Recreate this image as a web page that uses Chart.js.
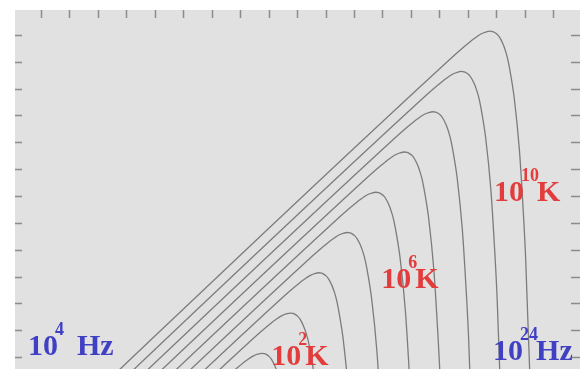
<!DOCTYPE html>
<html>
<head>
<meta charset="utf-8">
<script src="https://cdn.jsdelivr.net/npm/chart.js@4"></script>
<style>
  html, body { margin: 0; padding: 0; background: #fff; }
</style>
</head>
<body>
<canvas id="planck" width="580" height="369"></canvas>
<script>
// tick marks (log10 Hz along the top, log10 intensity on the sides)
const nuTicks = [5, 6, 7, 8, 9, 10, 11, 12, 13, 14, 15, 16, 17, 18, 19, 20, 21, 22, 23];
const bTicks = [-10, -8, -6, -4, -2, 0, 2, 4, 6, 8, 10, 12, 14];

// blackbody curves, [log10 frequency, log10 intensity]
const curve1e2 = [[4, -26.51], [11.32, -11.90], [11.80, -10.99], [12.16, -10.35], [12.32, -10.11], [12.49, -9.89], [12.62, -9.78], [12.77, -9.72], [12.86, -9.75], [12.92, -9.80], [13.02, -9.95], [13.10, -10.15], [13.22, -10.64], [13.32, -11.22], [13.40, -11.85], [13.49, -12.86], [13.62, -14.66], [13.80, -18.47], [13.92, -22.44], [14.02, -26.49], [14.16, -34.74], [14.22, -38.91]];
const curve1e3 = [[4, -25.51], [12.32, -8.90], [12.80, -7.99], [13.16, -7.35], [13.32, -7.11], [13.49, -6.89], [13.62, -6.78], [13.77, -6.72], [13.86, -6.75], [13.92, -6.80], [14.02, -6.95], [14.10, -7.15], [14.22, -7.64], [14.32, -8.22], [14.40, -8.85], [14.49, -9.86], [14.62, -11.66], [14.80, -15.47], [14.92, -19.44], [15.02, -23.49], [15.16, -31.74], [15.22, -35.91]];
const curve1e4 = [[4, -24.51], [13.32, -5.90], [13.80, -4.99], [14.16, -4.35], [14.32, -4.11], [14.49, -3.89], [14.62, -3.78], [14.77, -3.72], [14.86, -3.75], [14.92, -3.80], [15.02, -3.95], [15.10, -4.15], [15.22, -4.64], [15.32, -5.22], [15.40, -5.85], [15.49, -6.86], [15.62, -8.66], [15.80, -12.47], [15.92, -16.44], [16.02, -20.49], [16.16, -28.74], [16.22, -32.91]];
const curve1e5 = [[4, -23.51], [14.32, -2.90], [14.80, -1.99], [15.16, -1.35], [15.32, -1.11], [15.49, -0.89], [15.62, -0.78], [15.77, -0.72], [15.86, -0.75], [15.92, -0.80], [16.02, -0.95], [16.10, -1.15], [16.22, -1.64], [16.32, -2.22], [16.40, -2.85], [16.49, -3.86], [16.62, -5.66], [16.80, -9.47], [16.92, -13.44], [17.02, -17.49], [17.16, -25.74], [17.22, -29.91]];
const curve1e6 = [[4, -22.51], [15.32, 0.10], [15.80, 1.01], [16.16, 1.65], [16.32, 1.89], [16.49, 2.11], [16.62, 2.22], [16.77, 2.28], [16.86, 2.25], [16.92, 2.20], [17.02, 2.05], [17.10, 1.85], [17.22, 1.36], [17.32, 0.78], [17.40, 0.15], [17.49, -0.86], [17.62, -2.66], [17.80, -6.47], [17.92, -10.44], [18.02, -14.49], [18.16, -22.74], [18.22, -26.91]];
const curve1e7 = [[4, -21.51], [16.32, 3.10], [16.80, 4.01], [17.16, 4.65], [17.32, 4.89], [17.49, 5.11], [17.62, 5.22], [17.77, 5.28], [17.86, 5.25], [17.92, 5.20], [18.02, 5.05], [18.10, 4.85], [18.22, 4.36], [18.32, 3.78], [18.40, 3.15], [18.49, 2.14], [18.62, 0.34], [18.80, -3.47], [18.92, -7.44], [19.02, -11.49], [19.16, -19.74], [19.22, -23.91]];
const curve1e8 = [[4, -20.51], [17.32, 6.10], [17.80, 7.01], [18.16, 7.65], [18.32, 7.89], [18.49, 8.11], [18.62, 8.22], [18.77, 8.28], [18.86, 8.25], [18.92, 8.20], [19.02, 8.05], [19.10, 7.85], [19.22, 7.36], [19.32, 6.78], [19.40, 6.15], [19.49, 5.14], [19.62, 3.34], [19.80, -0.47], [19.92, -4.44], [20.02, -8.49], [20.16, -16.74], [20.22, -20.91]];
const curve1e9 = [[4, -19.51], [18.32, 9.10], [18.80, 10.01], [19.16, 10.65], [19.32, 10.89], [19.49, 11.11], [19.62, 11.22], [19.77, 11.28], [19.86, 11.25], [19.92, 11.20], [20.02, 11.05], [20.10, 10.85], [20.22, 10.36], [20.32, 9.78], [20.40, 9.15], [20.49, 8.14], [20.62, 6.34], [20.80, 2.53], [20.92, -1.44], [21.02, -5.49], [21.16, -13.74], [21.22, -17.91]];
const curve1e10 = [[4, -18.51], [19.32, 12.10], [19.80, 13.01], [20.16, 13.65], [20.32, 13.89], [20.49, 14.11], [20.62, 14.22], [20.77, 14.28], [20.86, 14.25], [20.92, 14.20], [21.02, 14.05], [21.10, 13.85], [21.22, 13.36], [21.32, 12.78], [21.40, 12.15], [21.49, 11.14], [21.62, 9.34], [21.80, 5.53], [21.92, 1.56], [22.02, -2.49], [22.16, -10.74], [22.22, -14.91]];

const curves = [curve1e2, curve1e3, curve1e4, curve1e5, curve1e6, curve1e7, curve1e8, curve1e9, curve1e10];

// text labels on the plot
const tagExp = ['4', '24', '2', '6', '10'];
const tagUnit = ['\u2002Hz', 'Hz', 'K', 'K', 'K'];
const tagColor = ['#4040c4', '#4040c4', '#e23c3c', '#e23c3c', '#e23c3c'];
const tagNu = [4.56, 20.88, 13.10, 16.96, 20.91];
const tagB = [-9.85, -10.22, -10.60, -4.86, 1.62];

var frame = {
  id: 'frame',
  beforeDraw(chart) {
    var ctx = chart.ctx, a = chart.chartArea;
    ctx.save();
    ctx.fillStyle = '#e1e1e1';
    ctx.fillRect(a.left, a.top, a.right - a.left, a.bottom - a.top);
    ctx.strokeStyle = '#8c8c8c';
    ctx.lineWidth = 1.5;
    ctx.beginPath();
    nuTicks.forEach(function(v) {
      var x = Math.round(chart.scales.x.getPixelForValue(v)) + 0.5;
      ctx.moveTo(x, a.top);
      ctx.lineTo(x, a.top + 8);
    });
    bTicks.forEach(function(v) {
      var y = Math.round(chart.scales.y.getPixelForValue(v)) + 0.5;
      ctx.moveTo(a.left, y);
      ctx.lineTo(a.left + 7, y);
      ctx.moveTo(a.right - 9, y);
      ctx.lineTo(a.right, y);
    });
    ctx.stroke();
    ctx.restore();
  },
  afterDraw(chart) {
    var ctx = chart.ctx;
    ctx.save();
    ctx.textBaseline = 'alphabetic';
    tagExp.forEach(function(e, i) {
      var x = chart.scales.x.getPixelForValue(tagNu[i]);
      var y = chart.scales.y.getPixelForValue(tagB[i]);
      ctx.fillStyle = tagColor[i];
      ctx.font = 'bold 30px "Liberation Serif"';
      ctx.fillText('10', x, y);
      x += ctx.measureText('10').width - 3;
      ctx.font = 'bold 18px "Liberation Serif"';
      ctx.fillText(e, x, y - 20);
      x += ctx.measureText(e).width - 2;
      ctx.font = 'bold 30px "Liberation Serif"';
      ctx.fillText(tagUnit[i], x, y);
    });
    ctx.restore();
  }
};

new Chart(document.getElementById('planck'), {
  type: 'line',
  data: {
    datasets: curves.map(function(c) {
      return {
        data: c.map(function(p) { return {x: p[0], y: p[1]}; }),
        borderColor: '#7c7c7c',
        borderWidth: 1.3,
        pointRadius: 0,
        fill: false,
        cubicInterpolationMode: 'monotone',
        clip: 0
      };
    })
  },
  options: {
    responsive: false,
    animation: false,
    layout: {padding: {left: 15, top: 10, right: 0, bottom: 0}},
    plugins: {
      legend: {display: false},
      tooltip: {enabled: false}
    },
    elements: {line: {capBezierPoints: false}},
    scales: {
      x: {type: 'linear', min: 4.105, max: 23.93, display: false},
      y: {type: 'linear', min: -10.89, max: 15.86, display: false}
    }
  },
  plugins: [frame]
});
</script>
</body>
</html>
